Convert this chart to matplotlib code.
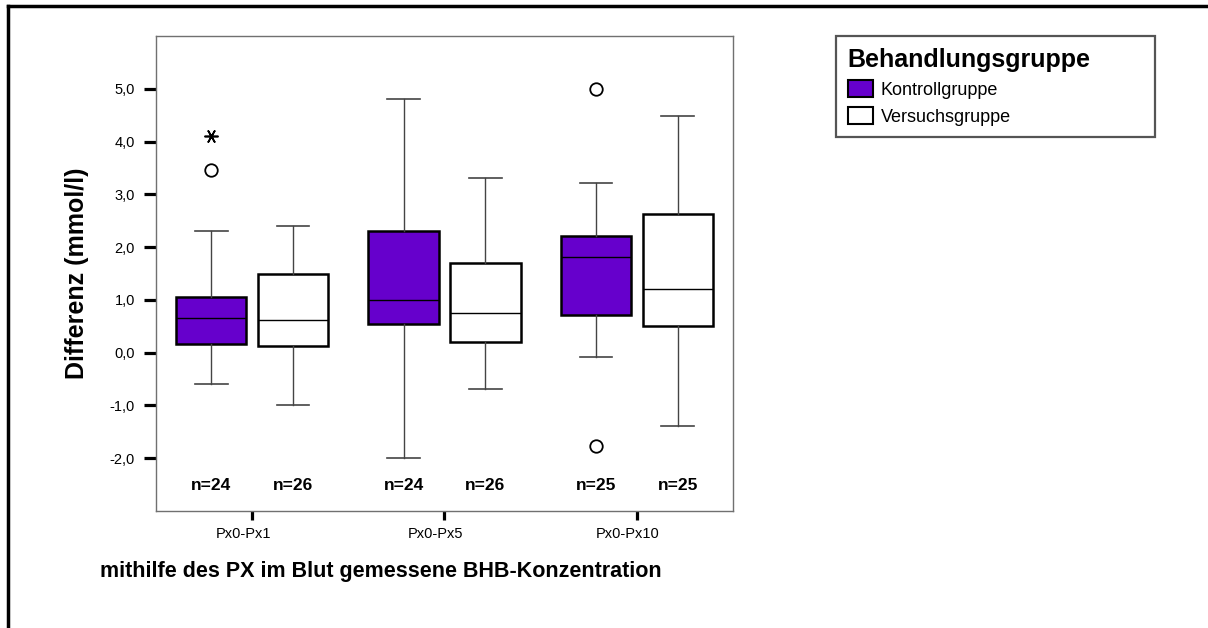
#!/usr/bin/env python3
import matplotlib
matplotlib.use('Agg')  # Use non-interactive backend
import matplotlib.pyplot as plt
import matplotlib.transforms as mtrans
from matplotlib.lines import Line2D
from matplotlib.patches import Patch

# Differences in BHB concentration (mmol/l), measured with the PX device
comparisons = ['Px0-Px1', 'Px0-Px5', 'Px0-Px10']
groups = ['Kontrollgruppe', 'Versuchsgruppe']

# box statistics per comparison, one entry per group
q1 = [[0.16, 0.12], [0.55, 0.21], [0.71, 0.50]]
median = [[0.66, 0.62], [0.99, 0.75], [1.81, 1.21]]
q3 = [[1.06, 1.49], [2.31, 1.70], [2.21, 2.62]]
whisker_lo = [[-0.60, -1.00], [-1.99, -0.68], [-0.09, -1.38]]
whisker_hi = [[2.31, 2.40], [4.80, 3.30], [3.21, 4.48]]
outliers = [[[3.47], []], [[], []], [[5.00, -1.77], []]]
extremes = [[[4.10], []], [[], []], [[], []]]
n_cases = [[24, 26], [24, 26], [25, 25]]

colors = ['#6600cc', 'white']
plt.rcParams['font.family'] = ['Liberation Sans', 'DejaVu Sans']


def create_boxplot():
    """Grouped boxplot of the BHB differences"""
    fig = plt.figure(figsize=(12.08, 6.28), dpi=100)
    ax = fig.add_axes([0.1291, 0.1863, 0.4777, 0.7564])

    offset = 0.213
    width = 0.365
    for i, comp in enumerate(comparisons):
        for j, group in enumerate(groups):
            pos = i + 1 + (offset if j else -offset)
            stats = [{
                'q1': q1[i][j], 'med': median[i][j], 'q3': q3[i][j],
                'whislo': whisker_lo[i][j], 'whishi': whisker_hi[i][j],
                'fliers': outliers[i][j],
            }]
            ax.bxp(stats, positions=[pos], widths=width, capwidths=0.17,
                   patch_artist=True, manage_ticks=False,
                   boxprops=dict(facecolor=colors[j], edgecolor='black', linewidth=1.8),
                   medianprops=dict(color='black', linewidth=1.0),
                   whiskerprops=dict(color='#444444', linewidth=1.0),
                   capprops=dict(color='#444444', linewidth=1.2),
                   flierprops=dict(marker='o', markersize=9, markerfacecolor='none',
                                   markeredgecolor='black', markeredgewidth=1.3))
            # extreme values are marked with an asterisk
            if extremes[i][j]:
                ax.plot([pos] * len(extremes[i][j]), extremes[i][j], linestyle='none',
                        marker=(6, 2, 90), markersize=10, color='black',
                        markeredgewidth=1.2)
            ax.text(pos, -2.52, f'n={n_cases[i][j]}', ha='center', va='center',
                    fontsize=12.5, fontweight='bold')

    ax.set_xlim(0.5, 3.5)
    ax.set_ylim(-3.0, 6.0)
    ax.set_yticks(range(-2, 6))
    ax.set_yticklabels([f'{v},0' for v in range(-2, 6)], fontsize=10.5)
    ax.set_xticks([1, 2, 3])
    ax.set_xticklabels(comparisons, fontsize=10.5)
    ax.tick_params(axis='y', length=8.5, width=2.3, pad=6.5, color='black')
    ax.tick_params(axis='x', length=6.5, width=2.3, pad=5, color='black')
    # category labels sit slightly left of their ticks
    shift = mtrans.ScaledTranslation(-9 / 100, 0, fig.dpi_scale_trans)
    for lbl in ax.get_xticklabels():
        lbl.set_transform(lbl.get_transform() + shift)

    for spine in ax.spines.values():
        spine.set_color('#707070')
        spine.set_linewidth(1.0)

    ax.set_ylabel('Differenz (mmol/l)', fontsize=18, fontweight='bold')
    ax.yaxis.set_label_coords(-0.116, 0.5)

    fig.text(100 / 1208, 1 - 572 / 628, 'mithilfe des PX im Blut gemessene BHB-Konzentration',
             ha='left', va='center', fontsize=15.5, fontweight='bold')

    handles = [Patch(facecolor=c, edgecolor='black', linewidth=1.5) for c in colors]
    leg = fig.legend(handles, groups, loc='upper left', mode='expand',
                     bbox_to_anchor=(836 / 1208, 1 - 134 / 628, 319 / 1208, 98 / 628),
                     title='Behandlungsgruppe', alignment='left', fontsize=13,
                     title_fontproperties=dict(size=18, weight='bold'),
                     fancybox=False, framealpha=1, edgecolor='#555555',
                     handlelength=1.39, handleheight=1.1, handletextpad=0.45,
                     labelspacing=0.45, borderpad=0.65, borderaxespad=0)
    leg.get_frame().set_linewidth(1.6)

    # outer frame along the left and top edge
    fig.add_artist(Line2D([8 / 1208, 8 / 1208], [0, 1 - 6 / 628],
                          transform=fig.transFigure, color='black', linewidth=2.5))
    fig.add_artist(Line2D([8 / 1208, 1], [1 - 6 / 628, 1 - 6 / 628],
                          transform=fig.transFigure, color='black', linewidth=2.5))

    fig.savefig('out.png', dpi=100)
    plt.close(fig)


if __name__ == "__main__":
    create_boxplot()
